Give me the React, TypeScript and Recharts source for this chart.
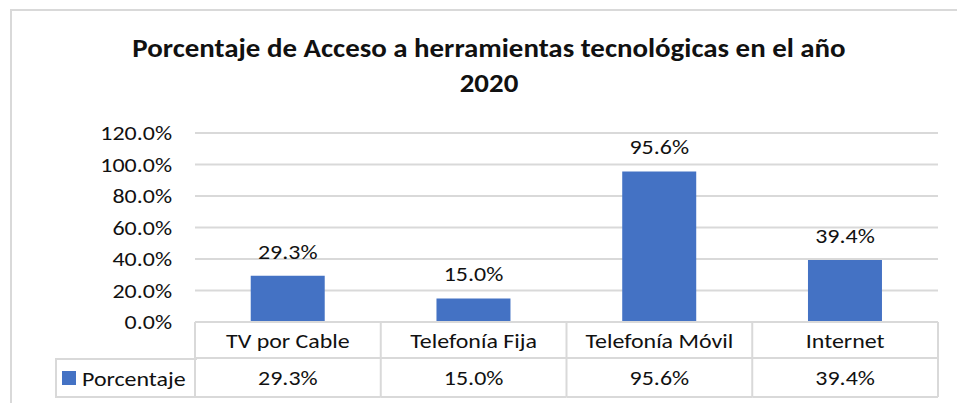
import { BarChart, Bar, XAxis, YAxis, CartesianGrid, Legend, LabelList } from "recharts";

const categories = ["TV por Cable", "Telefonía Fija", "Telefonía Móvil", "Internet"];
const porcentaje = [29.3, 15.0, 95.6, 39.4];
const yTicks = [0, 20, 40, 60, 80, 100, 120];
const titleLines = ["Porcentaje de Acceso a herramientas tecnológicas en el año", "2020"];

const data = categories.map((name, i) => ({ name, value: porcentaje[i] }));

const FONT = "Carlito, 'Open Sans', sans-serif";
const GRID = "#d9d9d9";
const BLUE = "#4472c4";
const TEXT = "#111";
const FS = 21;
const SX = 1.14; // the reference text is a bit wider than Carlito

const W = 957;
const H = 403;
const PLOT_LEFT = 195;
const PLOT_RIGHT = 938;
const PLOT_TOP = 133;
const TABLE_BOTTOM = 397;
const TABLE_H = 75;
const ROW_H = 36;
const Y_AXIS_W = 100;
const bandW = (PLOT_RIGHT - PLOT_LEFT) / categories.length;

const fmt = (v: number) => `${v.toFixed(1)}%`;

function StretchText({ x, y, anchor = "middle", dy = "0.35em", children, size = FS, weight = 400, sx = SX }: any) {
  return (
    <text
      transform={`translate(${x},${y}) scale(${sx},1)`}
      dy={dy}
      textAnchor={anchor}
      fontSize={size}
      fontWeight={weight}
      fill={TEXT}
      fontFamily={FONT}
    >
      {children}
    </text>
  );
}

// data table cell under each category
function TableTick(props: any) {
  const { x, y, payload, index } = props;
  const left = x - bandW / 2;
  const right = x + bandW / 2;
  return (
    <g>
      <line x1={left} x2={right} y1={y} y2={y} stroke={GRID} strokeWidth={2} />
      <line x1={left} x2={left} y1={y} y2={y + TABLE_H} stroke={GRID} strokeWidth={2} />
      {index === categories.length - 1 && (
        <line x1={right} x2={right} y1={y} y2={y + TABLE_H} stroke={GRID} strokeWidth={2} />
      )}
      <line x1={left} x2={right} y1={y + ROW_H} y2={y + ROW_H} stroke={GRID} strokeWidth={2} />
      <line x1={left} x2={right} y1={y + TABLE_H} y2={y + TABLE_H} stroke={GRID} strokeWidth={2} />
      <StretchText x={x} y={y + ROW_H / 2} dy="0.38em">
        {payload.value}
      </StretchText>
      <StretchText x={x} y={y + ROW_H + (TABLE_H - ROW_H) / 2} dy="0.38em">
        {fmt(porcentaje[index])}
      </StretchText>
    </g>
  );
}

function YTick({ x, y, payload }: any) {
  return (
    <StretchText x={x} y={y} anchor="end">
      {fmt(payload.value)}
    </StretchText>
  );
}

function BarLabel({ x, y, width, value }: any) {
  return (
    <StretchText x={x + width / 2} y={y - 17} dy="0">
      {fmt(Number(value))}
    </StretchText>
  );
}

function LegendCell({ payload }: any) {
  const item = payload && payload[0];
  return (
    <svg width={142} height={41} style={{ display: "block" }}>
      <line x1={1} x2={142} y1={1} y2={1} stroke={GRID} strokeWidth={2} />
      <line x1={1} x2={142} y1={39} y2={39} stroke={GRID} strokeWidth={2} />
      <line x1={1} x2={1} y1={0} y2={40} stroke={GRID} strokeWidth={2} />
      <rect x={7} y={13} width={14} height={14} fill={item?.color || BLUE} />
      <StretchText x={27} y={20} anchor="start" dy="0.38em">
        {item?.value}
      </StretchText>
    </svg>
  );
}

export default function App() {
  return (
    <div style={{ position: "absolute", left: 0, top: 0, width: W, height: H, background: "#fff", overflow: "hidden" }}>
      <div
        style={{
          position: "absolute",
          left: 10,
          top: 9,
          width: W,
          height: H,
          border: `2px solid ${GRID}`,
          boxSizing: "border-box",
        }}
      />
      <svg width={W} height={110} style={{ position: "absolute", left: 0, top: 0 }}>
        <StretchText x={489} y={57} dy="0" size={27} weight={700} sx={1.07}>
          {titleLines[0]}
        </StretchText>
        <StretchText x={489} y={91.5} dy="0" size={27} weight={700} sx={1.07}>
          {titleLines[1]}
        </StretchText>
      </svg>
      <div style={{ position: "absolute", left: 0, top: 0 }}>
        <BarChart
          width={W}
          height={H}
          data={data}
          margin={{ top: PLOT_TOP, left: PLOT_LEFT - Y_AXIS_W, right: W - PLOT_RIGHT, bottom: H - TABLE_BOTTOM }}
          barCategoryGap="30%"
        >
          <CartesianGrid vertical={false} stroke={GRID} strokeWidth={2} />
          <XAxis
            dataKey="name"
            height={TABLE_H}
            axisLine={false}
            tickLine={false}
            tickSize={0}
            tickMargin={0}
            interval={0}
            tick={<TableTick />}
          />
          <YAxis
            width={Y_AXIS_W}
            domain={[0, 120]}
            ticks={yTicks}
            axisLine={false}
            tickLine={false}
            tickSize={0}
            tickMargin={23}
            tick={<YTick />}
          />
          <Legend
            layout="horizontal"
            verticalAlign="middle"
            align="center"
            content={<LegendCell />}
            wrapperStyle={{ position: "absolute", left: 55, top: 358, width: 142, height: 41 }}
          />
          <Bar dataKey="value" name="Porcentaje" fill={BLUE} isAnimationActive={false}>
            <LabelList dataKey="value" content={<BarLabel />} />
          </Bar>
        </BarChart>
      </div>
    </div>
  );
}
